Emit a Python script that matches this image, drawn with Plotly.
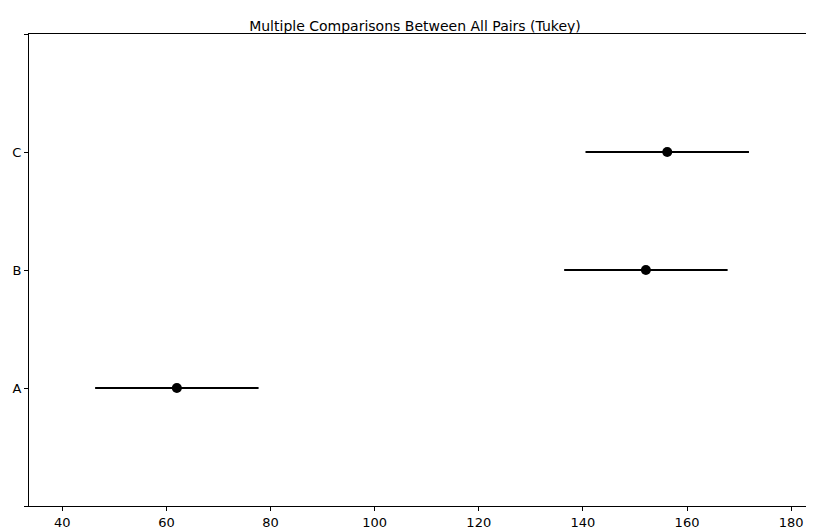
import plotly.graph_objects as go

groups = ['A', 'B', 'C']
means = [62.0, 152.1, 156.2]
half_width = [15.7, 15.7, 15.7]

fig = go.Figure()
fig.add_trace(go.Scatter(
    x=means, y=[0, 1, 2], mode='markers',
    marker=dict(color='black', size=10),
    error_x=dict(type='data', array=half_width, color='black', thickness=2, width=0),
    showlegend=False,
))

fig.update_layout(
    width=814, height=528,
    margin=dict(l=21, r=9, t=26, b=30, autoexpand=False),
    plot_bgcolor='white', paper_bgcolor='white',
    font=dict(family='DejaVu Sans', size=13, color='black'),
    title=dict(text='Multiple Comparisons Between All Pairs (Tukey)',
               x=0.5, xanchor='center', y=0.965, yanchor='middle',
               font=dict(size=14)),
)
fig.update_xaxes(range=[33.6, 184.2], tickvals=[40, 60, 80, 100, 120, 140, 160, 180],
                 showgrid=False, zeroline=False, showline=True, linecolor='black',
                 mirror=True, ticks='outside', ticklen=4, tickcolor='black')
fig.update_yaxes(range=[-1, 3], tickvals=[-1, 0, 1, 2, 3], ticktext=['', 'A', 'B', 'C', ''],
                 showgrid=False, zeroline=False, showline=True, linecolor='black',
                 mirror=True, ticks='outside', ticklen=4, tickcolor='black')

fig.write_html('out.html')
